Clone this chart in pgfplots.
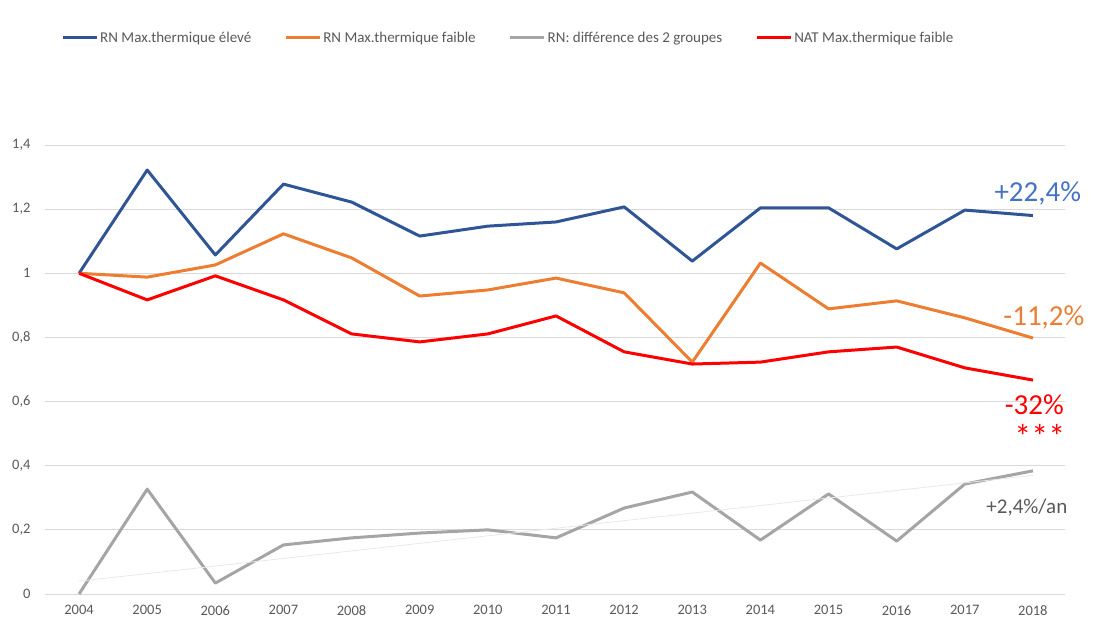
\documentclass[border=0pt]{standalone}
\usepackage{pgfplots}
\pgfplotsset{compat=1.18}
\usepackage{fontspec}
\setmainfont{Carlito}
\definecolor{cblue}{HTML}{2F5597}
\definecolor{cblue2}{HTML}{4472C4}
\definecolor{corange}{HTML}{ED7D31}
\definecolor{cgray}{HTML}{A5A5A5}
\definecolor{cred}{HTML}{FF0000}
\definecolor{ctext}{HTML}{595959}
\definecolor{cgrid}{HTML}{D9D9D9}
\begin{document}
\begin{tikzpicture}
\begin{axis}[
  scale only axis,
  width=1020pt, height=449pt,
  xmin=2003.5, xmax=2018.47,
  ymin=0, ymax=1.4,
  clip=false,
  axis line style={draw=none},
  major tick length=0pt,
  xtick={2004,...,2018},
  ytick={0,0.2,0.4,0.6,0.8,1,1.2,1.4},
  ymajorgrids,
  grid style={cgrid, line width=0.8pt},
  /pgf/number format/assume math mode=true,
  /pgf/number format/use comma,
  /pgf/number format/1000 sep={},
  /pgf/number format/fixed,
  /pgf/number format/precision=1,
  xticklabel style={font=\fontsize{14.5}{16}\selectfont, text=ctext, yshift=-8pt},
  yticklabel style={font=\fontsize{14.5}{16}\selectfont, text=ctext, xshift=-11pt},
  legend style={draw=none, fill=none, at={(0.0157,1.2383)}, anchor=west,
    font=\fontsize{15}{16}\selectfont, text=ctext, inner sep=0pt,
    /tikz/every even column/.append style={column sep=31pt}},
  legend columns=4,
  legend image code/.code={\draw[#1, line width=3pt] (0pt,0pt) -- (34pt,0pt);},
  legend cell align=left,
]
\addplot[cblue, line width=3pt, line join=round] coordinates {
(2004,1.0) (2005,1.322) (2006,1.057) (2007,1.278) (2008,1.222) (2009,1.116) (2010,1.147) (2011,1.16) (2012,1.207) (2013,1.038) (2014,1.204) (2015,1.204) (2016,1.076) (2017,1.197) (2018,1.18)};
\addlegendentry{RN Max.thermique élevé}
\addplot[corange, line width=3pt, line join=round] coordinates {
(2004,1.0) (2005,0.988) (2006,1.026) (2007,1.123) (2008,1.048) (2009,0.929) (2010,0.948) (2011,0.985) (2012,0.939) (2013,0.723) (2014,1.032) (2015,0.889) (2016,0.914) (2017,0.861) (2018,0.798)};
\addlegendentry{RN Max.thermique faible}
\addplot[cgray, line width=3pt, line join=round] coordinates {
(2004,0.0) (2005,0.327) (2006,0.034) (2007,0.153) (2008,0.175) (2009,0.19) (2010,0.2) (2011,0.175) (2012,0.268) (2013,0.318) (2014,0.168) (2015,0.312) (2016,0.165) (2017,0.343) (2018,0.384)};
\addlegendentry{RN: différence des 2 groupes}
\addplot[cred, line width=3pt, line join=round] coordinates {
(2004,1.0) (2005,0.917) (2006,0.992) (2007,0.917) (2008,0.811) (2009,0.786) (2010,0.811) (2011,0.867) (2012,0.755) (2013,0.717) (2014,0.723) (2015,0.755) (2016,0.770) (2017,0.705) (2018,0.667)};
\addlegendentry{NAT Max.thermique faible}
\addplot[gray!18, line width=0.8pt, forget plot] coordinates {(2004,0.04) (2018,0.37)};
\node[text=cblue2, font=\fontsize{29}{30}\selectfont] at (axis cs:2018.07,1.25) {+22,4\%};
\node[text=corange, font=\fontsize{29}{30}\selectfont] at (axis cs:2018.16,0.861) {-11,2\%};
\node[text=cred, font=\fontsize{29}{30}\selectfont] at (axis cs:2018.02,0.589) {-32\%};
\node[text=cred, font=\fontsize{34}{34}\selectfont] at (axis cs:2018.1,0.49) {***};
\node[text=ctext, font=\fontsize{21}{22}\selectfont] at (axis cs:2017.91,0.271) {+2,4\%/an};
\coordinate (A) at (rel axis cs:0,0);
\end{axis}
\pgfresetboundingbox
\path (A) ++(-45pt,-23pt) rectangle ++(1096pt,617pt);
\end{tikzpicture}
\end{document}
